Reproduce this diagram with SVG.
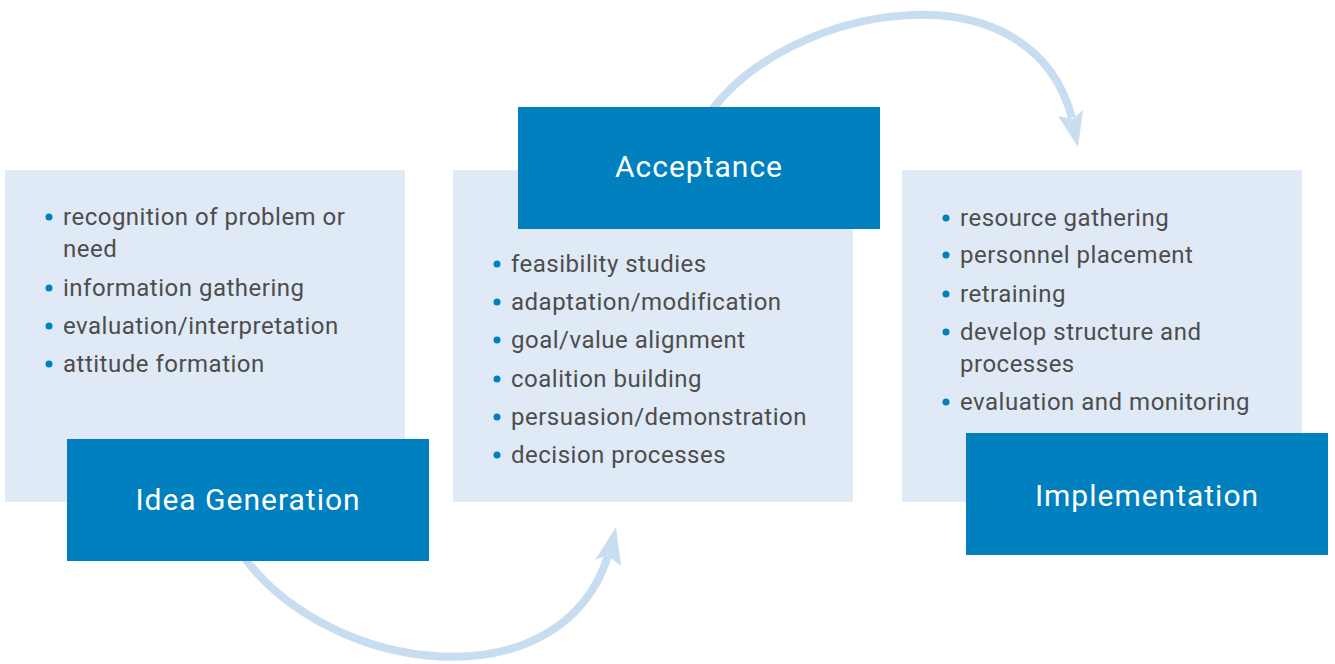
<svg xmlns="http://www.w3.org/2000/svg" width="1335" height="664" viewBox="0 0 1335 664">
<style>
.panel{fill:#dfeaf6}
.head{fill:#0080be}
.item{font-family:Roboto,"Liberation Sans",sans-serif;font-size:24px;fill:#4d4d4d;letter-spacing:0.5px}
.title{font-family:Roboto,"Liberation Sans",sans-serif;font-size:30px;fill:#ffffff;text-anchor:middle;letter-spacing:1px}
.dot{fill:#0080be}
.flow{fill:none;stroke:#c9ddf0;stroke-width:8}
.tip{fill:#c9ddf0}
</style>
<rect width="1335" height="664" fill="#ffffff"/>
<g id="panel-idea">
<rect class="panel" x="5" y="170" width="400" height="332"/>
<circle class="dot" cx="49" cy="217" r="3.5"/>
<text class="item" x="63" y="225">recognition of problem or</text>
<text class="item" x="63" y="257">need</text>
<circle class="dot" cx="49" cy="288" r="3.5"/>
<text class="item" x="63" y="296">information gathering</text>
<circle class="dot" cx="49" cy="326" r="3.5"/>
<text class="item" x="63" y="334">evaluation/interpretation</text>
<circle class="dot" cx="49" cy="364" r="3.5"/>
<text class="item" x="63" y="372">attitude formation</text>
</g>
<g id="panel-acceptance">
<rect class="panel" x="453" y="170" width="400" height="332"/>
<circle class="dot" cx="497" cy="264" r="3.5"/>
<text class="item" x="511" y="272">feasibility studies</text>
<circle class="dot" cx="497" cy="302" r="3.5"/>
<text class="item" x="511" y="310">adaptation/modification</text>
<circle class="dot" cx="497" cy="340" r="3.5"/>
<text class="item" x="511" y="348">goal/value alignment</text>
<circle class="dot" cx="497" cy="379" r="3.5"/>
<text class="item" x="511" y="387">coalition building</text>
<circle class="dot" cx="497" cy="417" r="3.5"/>
<text class="item" x="511" y="425">persuasion/demonstration</text>
<circle class="dot" cx="497" cy="455" r="3.5"/>
<text class="item" x="511" y="463">decision processes</text>
</g>
<g id="panel-implementation">
<rect class="panel" x="902" y="170" width="400" height="332"/>
<circle class="dot" cx="946" cy="218" r="3.5"/>
<text class="item" x="960" y="226">resource gathering</text>
<circle class="dot" cx="946" cy="255" r="3.5"/>
<text class="item" x="960" y="263">personnel placement</text>
<circle class="dot" cx="946" cy="294" r="3.5"/>
<text class="item" x="960" y="302">retraining</text>
<circle class="dot" cx="946" cy="332" r="3.5"/>
<text class="item" x="960" y="340">develop structure and</text>
<text class="item" x="960" y="372">processes</text>
<circle class="dot" cx="946" cy="402" r="3.5"/>
<text class="item" x="960" y="410">evaluation and monitoring</text>
</g>
<g id="connectors">
<path class="flow" d="M 243 556 C 330 675, 560 705, 608 556"/>
<polygon class="tip" points="616,527 595,560 607,555 621,566"/>
<path class="flow" d="M 712 110 C 790 5, 1030 -40, 1072 118"/>
<polygon class="tip" points="1078,147 1058,116 1073,119 1083,110"/>
</g>
<g id="node-idea">
<rect class="head" x="67" y="439" width="362" height="122"/>
<text class="title" x="248" y="510">Idea Generation</text>
</g>
<g id="node-acceptance">
<rect class="head" x="518" y="107" width="362" height="122"/>
<text class="title" x="699" y="177">Acceptance</text>
</g>
<g id="node-implementation">
<rect class="head" x="966" y="433" width="362" height="122"/>
<text class="title" x="1147" y="506">Implementation</text>
</g>
</svg>
